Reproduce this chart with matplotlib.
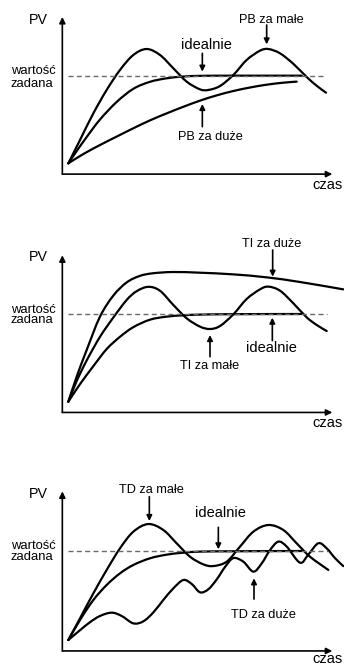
import matplotlib
matplotlib.use("Agg")
import matplotlib.pyplot as plt
import numpy as np
from matplotlib.path import Path
from matplotlib.patches import PathPatch

plt.rcParams['font.family'] = ['Liberation Sans', 'DejaVu Sans']

# ---------------------------------------------------------------- data
# time (arbitrary units) and PV in % of the set point (100 = "wartość zadana")

# Panel 1: proportional band
pb_small_t = [0, 3.5, 7.5, 11.5, 15.5, 19.5, 23.5, 27.5, 31.5, 35.5, 39.5, 42,
              45.5, 49.5, 53.5, 57.5, 60, 63.5, 67.5, 71.5, 74.5, 77.3]
pb_small_v = [0, 26.6, 57.0, 83.7, 106.5, 123.6, 130.4, 123.6, 108.4, 93.2, 84.4,
              83.7, 88.2, 100.8, 117.9, 128.5, 130.4, 125.5, 113.5, 98.5, 88.5, 80.6]
pb_ideal_t = [0, 2.5, 5.5, 9.5, 14.5, 19.5, 24.5, 29.5, 34.5, 39.5, 49.5, 70]
pb_ideal_v = [0, 14.0, 30.0, 50.0, 70.0, 85.0, 93.0, 97.0, 99.0, 99.8, 100, 100]
pb_large_t = [0, 4.5, 9.5, 14.5, 19.5, 24.5, 29.5, 34.5, 39.5, 44.5, 49.5, 54.5,
              59.5, 64.5, 68.5]
pb_large_v = [0, 10.6, 20.9, 30.5, 40.0, 49.0, 57.0, 64.5, 71.5, 77.5, 82.5, 86.5,
              89.7, 92.0, 93.2]

# Panel 2: integral time
ti_large_t = [0, 2.5, 5.5, 9.5, 13.5, 17.5, 21.5, 25.5, 31.5, 39.5, 49.5, 59.5,
              69.5, 82.5]
ti_large_v = [0, 28.5, 58.9, 97.0, 121.0, 136.0, 143.5, 146.5, 147.9, 147.1,
              145.2, 141.8, 136.5, 128.1]
ti_small_t = [0, 2.5, 5.5, 9.5, 13.5, 17.5, 20.5, 24, 27.5, 31.5, 35.5, 39.5,
              42.5, 45.5, 49.5, 53.5, 57.5, 60, 63.5, 67.5, 71.5, 74.5, 77.5]
ti_small_v = [0, 23.5, 47.0, 74.0, 96.0, 116.0, 126.0, 131.0, 126.5, 110.3, 95.1,
              85.6, 82.9, 86.3, 99.6, 117.1, 128.1, 131.2, 126.6, 112.2, 96.2,
              87.5, 80.6]
ti_ideal_t = [0, 3.5, 7.5, 11.5, 15.5, 19.5, 24.5, 29.5, 34.5, 39.5, 49.5, 70]
ti_ideal_v = [0, 20.0, 40.5, 60.0, 74.0, 85.0, 93.5, 97.0, 98.5, 99.3, 99.8, 100]

# Panel 3: derivative time
td_small_t = [0, 3.5, 7.5, 11.5, 15.5, 19.5, 24, 28.5, 32.5, 36.5, 40.5, 43.5,
              47.5, 51.5, 55.5, 60, 64.5, 68.5, 72.5, 78]
td_small_v = [0, 24.3, 52.4, 78.7, 103.0, 121.7, 130.3, 123.6, 108.6, 93.6, 85.0,
              83.1, 88.0, 104.9, 121.7, 129.2, 123.6, 108.6, 93.6, 78.7]
td_ideal_t = [0, 3.5, 7.5, 11.5, 15.5, 19.5, 24.5, 29.5, 34.5, 39.5, 49.5, 70]
td_ideal_v = [0, 22.5, 44.9, 61.8, 74.9, 84.3, 91.8, 95.9, 98.1, 99.3, 99.7, 100]
td_large_t = [0, 3.5, 6.5, 9.5, 13, 16, 19.5, 22.5, 25.5, 28.5, 31.5, 34.5, 37,
              39.5, 42, 44.5, 47, 49.5, 52.5, 55.5, 58, 60.5, 63, 65.5, 69.5, 72,
              75, 77.5, 80, 82.5]
td_large_v = [0, 11, 20, 27, 30.7, 27, 18.7, 21, 31, 45, 58, 67.4, 63, 53.6, 57,
              68, 82, 92, 88, 76.8, 86, 101, 110.5, 105, 86.9, 96, 108.7, 103,
              92, 83]

SETPOINT = 100

panels = [
    dict(curves=[(pb_small_t, pb_small_v), (pb_ideal_t, pb_ideal_v),
                 (pb_large_t, pb_large_v)],
         labels=[("idealnie", 41.5, 130.4, 10.5, 40.2, 125.5, 104.6),
                 ("PB za małe", 60.9, 159.7, 9.2, 59.5, 157.8, 135.7),
                 ("PB za duże", 42.5, 26.6, 9.2, 40.2, 41.8, 67.7)],
         dash_end=77.0, text_y=(158.9, 101.9, 86.7, -29.7),
         px=(0, 205, 163.33, 75.67)),
    dict(curves=[(ti_large_t, ti_large_v), (ti_small_t, ti_small_v),
                 (ti_ideal_t, ti_ideal_v)],
         labels=[("TI za duże", 60.9, 176.8, 9.2, 61.3, 173.0, 142.6),
                 ("TI za małe", 42.5, 37.3, 9.2, 42.5, 51.3, 76.0),
                 ("idealnie", 61.0, 57.0, 10.5, 61.2, 69.6, 95.8)],
         dash_end=77.5, text_y=(160.8, 101.5, 89.4, -29.3),
         px=(205, 445, 401.67, 314.0)),
    dict(curves=[(td_small_t, td_small_v), (td_ideal_t, td_ideal_v),
                 (td_large_t, td_large_v)],
         labels=[("TD za małe", 25.0, 165.5, 9.2, 24.3, 161.0, 133.7),
                 ("idealnie", 45.5, 137.8, 10.5, 45.0, 126.6, 101.9),
                 ("TD za duże", 58.5, 25.1, 9.2, 55.7, 46.0, 69.3)],
         dash_end=78.0, text_y=(159.2, 101.9, 89.9, -26.0),
         px=(445, 666, 640.0, 551.0)),
]

W, H = 344, 666
X0_PX = 205 / 3          # horizontal pixel of t = 0
PX_PER_T = 10 / 3        # horizontal pixels per time unit


def smooth_path(t, v):
    """Catmull-Rom spline through the points, as cubic Bezier segments."""
    p = np.column_stack([t, v]).astype(float)
    n = len(p)
    verts = [p[0]]
    codes = [Path.MOVETO]
    for i in range(n - 1):
        p0 = p[i - 1] if i > 0 else p[i]
        p1, p2 = p[i], p[i + 1]
        p3 = p[i + 2] if i + 2 < n else p[i + 1]
        c1 = p1 + (p2 - p0) / 6.0
        c2 = p2 - (p3 - p1) / 6.0
        verts += [c1, c2, p2]
        codes += [Path.CURVE4] * 3
    return Path(verts, codes)


fig = plt.figure(figsize=(W / 100, H / 100), dpi=100)

for pan in panels:
    top, bot, y0, ysp = pan["px"]
    ax = fig.add_axes([0, 1 - bot / H, 1, (bot - top) / H])
    ppu = (y0 - ysp) / SETPOINT
    ax.set_ylim((y0 - bot) / ppu, (y0 - top) / ppu)
    ax.set_xlim(-X0_PX / PX_PER_T, (W - X0_PX) / PX_PER_T)
    ax.axis("off")

    # axes with arrow heads
    yx = -1.8
    xy = -12.3
    ax.annotate("", xy=(yx, 167), xytext=(yx, xy),
                arrowprops=dict(arrowstyle="-|>", lw=1.2, color="black",
                                mutation_scale=9, shrinkA=0, shrinkB=0))
    ax.annotate("", xy=(79.2, xy), xytext=(yx, xy),
                arrowprops=dict(arrowstyle="-|>", lw=1.2, color="black",
                                mutation_scale=9, shrinkA=0, shrinkB=0))

    # set point
    ax.plot([0, pan["dash_end"]], [SETPOINT, SETPOINT], color="#6a6a6a",
            lw=1.0, dashes=(3.6, 2.4))

    for t, v in pan["curves"]:
        ax.add_patch(PathPatch(smooth_path(t, v), fc="none", ec="black",
                               lw=1.6, capstyle="round", joinstyle="round"))

    for text, tx, ty, fs, ax_t, a0, a1 in pan["labels"]:
        ax.text(tx, ty, text, ha="center", va="baseline", fontsize=fs)
        ax.annotate("", xy=(ax_t, a1), xytext=(ax_t, a0),
                    arrowprops=dict(arrowstyle="-|>", lw=1.2, color="black",
                                    mutation_scale=8, shrinkA=0, shrinkB=0))

    pv_y, w_y, z_y, c_y = pan["text_y"]
    ax.text(-8.85, pv_y, "PV", ha="center", va="baseline", fontsize=10.3)
    ax.text(-17.2, w_y, "wartość", ha="left", va="baseline", fontsize=9.4)
    ax.text(-17.2, z_y, "zadana", ha="left", va="baseline", fontsize=9.4)
    ax.text(82.2, c_y, "czas", ha="right", va="baseline", fontsize=10.5)

fig.savefig("out.png", dpi=100)
